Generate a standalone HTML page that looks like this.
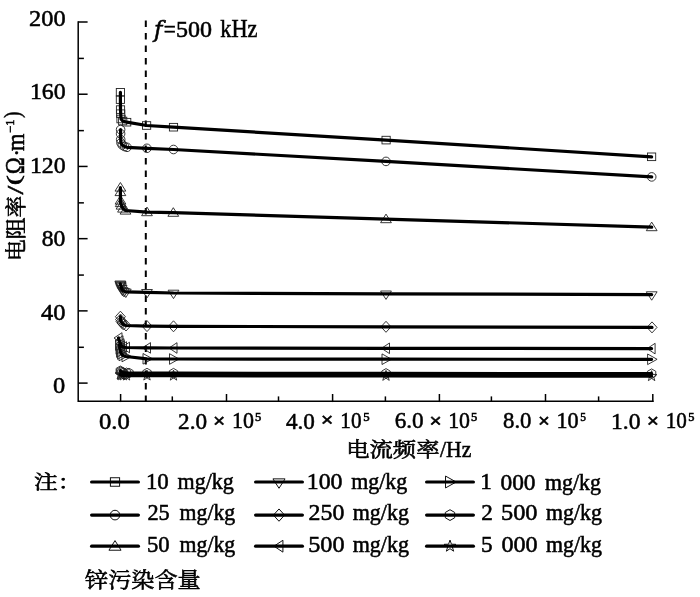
<!DOCTYPE html>
<html><head><meta charset="utf-8"><style>html,body{margin:0;padding:0;background:#fff;}svg{display:block;}</style></head>
<body><svg width="700" height="597" viewBox="0 0 700 597"><path d="M78.2,21.25 V401.3 H653.55" fill="none" stroke="#000" stroke-width="1.5" stroke-linejoin="miter"/>
<line x1="78.2" y1="22.00" x2="87.6" y2="22.00" stroke="#000" stroke-width="1.5"/>
<line x1="78.2" y1="94.22" x2="87.6" y2="94.22" stroke="#000" stroke-width="1.5"/>
<line x1="78.2" y1="166.44" x2="87.6" y2="166.44" stroke="#000" stroke-width="1.5"/>
<line x1="78.2" y1="238.66" x2="87.6" y2="238.66" stroke="#000" stroke-width="1.5"/>
<line x1="78.2" y1="310.88" x2="87.6" y2="310.88" stroke="#000" stroke-width="1.5"/>
<line x1="78.2" y1="383.10" x2="87.6" y2="383.10" stroke="#000" stroke-width="1.5"/>
<line x1="78.2" y1="58.41" x2="83.9" y2="58.41" stroke="#000" stroke-width="1.5"/>
<line x1="78.2" y1="130.63" x2="83.9" y2="130.63" stroke="#000" stroke-width="1.5"/>
<line x1="78.2" y1="202.85" x2="83.9" y2="202.85" stroke="#000" stroke-width="1.5"/>
<line x1="78.2" y1="275.07" x2="83.9" y2="275.07" stroke="#000" stroke-width="1.5"/>
<line x1="78.2" y1="347.29" x2="83.9" y2="347.29" stroke="#000" stroke-width="1.5"/>
<line x1="120.6" y1="402.05" x2="120.6" y2="394.0" stroke="#000" stroke-width="1.5"/>
<line x1="226.5" y1="402.05" x2="226.5" y2="394.0" stroke="#000" stroke-width="1.5"/>
<line x1="332.6" y1="402.05" x2="332.6" y2="394.0" stroke="#000" stroke-width="1.5"/>
<line x1="439.4" y1="402.05" x2="439.4" y2="394.0" stroke="#000" stroke-width="1.5"/>
<line x1="545.5" y1="402.05" x2="545.5" y2="394.0" stroke="#000" stroke-width="1.5"/>
<line x1="652.8" y1="402.05" x2="652.8" y2="394.0" stroke="#000" stroke-width="1.5"/>
<line x1="172.3" y1="401.3" x2="172.3" y2="396.4" stroke="#000" stroke-width="1.5"/>
<line x1="278.5" y1="401.3" x2="278.5" y2="396.4" stroke="#000" stroke-width="1.5"/>
<line x1="385.4" y1="401.3" x2="385.4" y2="396.4" stroke="#000" stroke-width="1.5"/>
<line x1="491.4" y1="401.3" x2="491.4" y2="396.4" stroke="#000" stroke-width="1.5"/>
<line x1="598.6" y1="401.3" x2="598.6" y2="396.4" stroke="#000" stroke-width="1.5"/>
<line x1="145.8" y1="20.6" x2="145.8" y2="401" stroke="#000" stroke-width="2" stroke-dasharray="6.4 6.1"/>
<g fill="none" stroke="#222" stroke-width="0.9"><rect x="116.30" y="88.50" width="8.20" height="7.60" /><rect x="116.30" y="95.80" width="8.20" height="7.60" /><rect x="116.40" y="105.80" width="8.20" height="7.60" /><rect x="116.60" y="109.90" width="8.20" height="7.60" /><rect x="116.90" y="115.20" width="8.20" height="7.60" /><rect x="118.60" y="117.20" width="8.20" height="7.60" /><rect x="122.60" y="118.40" width="8.20" height="7.60" /><rect x="142.50" y="121.70" width="8.20" height="7.60" /><rect x="169.40" y="123.40" width="8.20" height="7.60" /><rect x="382.00" y="136.30" width="8.20" height="7.60" /><rect x="647.50" y="153.00" width="8.20" height="7.60" /><circle cx="120.60" cy="129.60" r="4.30"/><circle cx="120.60" cy="133.80" r="4.30"/><circle cx="120.70" cy="139.60" r="4.30"/><circle cx="121.00" cy="142.80" r="4.30"/><circle cx="122.20" cy="145.00" r="4.30"/><circle cx="124.50" cy="146.50" r="4.30"/><circle cx="127.00" cy="147.30" r="4.30"/><circle cx="146.90" cy="148.30" r="4.30"/><circle cx="173.50" cy="149.50" r="4.30"/><circle cx="386.00" cy="161.40" r="4.30"/><circle cx="651.70" cy="176.90" r="4.30"/><path d="M120.40,182.50 L125.80,191.10 L115.00,191.10Z"/><path d="M120.40,187.00 L125.80,195.60 L115.00,195.60Z"/><path d="M120.50,195.50 L125.90,204.10 L115.10,204.10Z"/><path d="M120.70,198.00 L126.10,206.60 L115.30,206.60Z"/><path d="M121.50,200.50 L126.90,209.10 L116.10,209.10Z"/><path d="M123.00,203.50 L128.40,212.10 L117.60,212.10Z"/><path d="M125.50,205.50 L130.90,214.10 L120.10,214.10Z"/><path d="M147.00,207.10 L152.40,215.70 L141.60,215.70Z"/><path d="M173.30,207.70 L178.70,216.30 L167.90,216.30Z"/><path d="M386.00,214.10 L391.40,222.70 L380.60,222.70Z"/><path d="M651.70,222.10 L657.10,230.70 L646.30,230.70Z"/><path d="M120.30,289.40 L125.70,281.00 L114.90,281.00Z"/><path d="M120.50,290.10 L125.90,281.70 L115.10,281.70Z"/><path d="M120.70,291.00 L126.10,282.60 L115.30,282.60Z"/><path d="M121.00,292.20 L126.40,283.80 L115.60,283.80Z"/><path d="M121.60,293.90 L127.00,285.50 L116.20,285.50Z"/><path d="M122.50,295.80 L127.90,287.40 L117.10,287.40Z"/><path d="M124.00,296.90 L129.40,288.50 L118.60,288.50Z"/><path d="M125.80,297.50 L131.20,289.10 L120.40,289.10Z"/><path d="M147.00,297.90 L152.40,289.50 L141.60,289.50Z"/><path d="M173.50,298.60 L178.90,290.20 L168.10,290.20Z"/><path d="M386.00,299.40 L391.40,291.00 L380.60,291.00Z"/><path d="M651.70,300.20 L657.10,291.80 L646.30,291.80Z"/><path d="M120.40,311.20 L125.40,316.70 L120.40,322.20 L115.40,316.70Z"/><path d="M120.50,314.00 L125.50,319.50 L120.50,325.00 L115.50,319.50Z"/><path d="M121.00,316.00 L126.00,321.50 L121.00,327.00 L116.00,321.50Z"/><path d="M122.00,317.50 L127.00,323.00 L122.00,328.50 L117.00,323.00Z"/><path d="M123.50,319.00 L128.50,324.50 L123.50,330.00 L118.50,324.50Z"/><path d="M126.00,320.00 L131.00,325.50 L126.00,331.00 L121.00,325.50Z"/><path d="M147.00,320.60 L152.00,326.10 L147.00,331.60 L142.00,326.10Z"/><path d="M173.50,320.80 L178.50,326.30 L173.50,331.80 L168.50,326.30Z"/><path d="M386.00,321.30 L391.00,326.80 L386.00,332.30 L381.00,326.80Z"/><path d="M652.00,321.90 L657.00,327.40 L652.00,332.90 L647.00,327.40Z"/><path d="M114.00,338.00 L122.00,332.70 L122.00,343.30Z"/><path d="M115.00,341.00 L123.00,335.70 L123.00,346.30Z"/><path d="M116.00,344.00 L124.00,338.70 L124.00,349.30Z"/><path d="M116.50,346.00 L124.50,340.70 L124.50,351.30Z"/><path d="M118.50,347.00 L126.50,341.70 L126.50,352.30Z"/><path d="M121.50,347.50 L129.50,342.20 L129.50,352.80Z"/><path d="M142.50,347.90 L150.50,342.60 L150.50,353.20Z"/><path d="M169.00,348.00 L177.00,342.70 L177.00,353.30Z"/><path d="M381.50,348.30 L389.50,343.00 L389.50,353.60Z"/><path d="M647.10,348.60 L655.10,343.30 L655.10,353.90Z"/><path d="M125.00,345.00 L115.50,339.70 L115.50,350.30Z"/><path d="M125.50,349.00 L116.00,343.70 L116.00,354.30Z"/><path d="M126.00,352.00 L116.50,346.70 L116.50,357.30Z"/><path d="M127.00,354.00 L117.50,348.70 L117.50,359.30Z"/><path d="M128.50,355.50 L119.00,350.20 L119.00,360.80Z"/><path d="M131.50,356.50 L122.00,351.20 L122.00,361.80Z"/><path d="M152.50,358.80 L143.00,353.50 L143.00,364.10Z"/><path d="M179.00,359.00 L169.50,353.70 L169.50,364.30Z"/><path d="M391.50,359.20 L382.00,353.90 L382.00,364.50Z"/><path d="M657.10,359.30 L647.60,354.00 L647.60,364.60Z"/><path d="M120.30,366.00 L116.14,368.40 L116.14,373.20 L120.30,375.60 L124.46,373.20 L124.46,368.40Z"/><path d="M120.80,366.80 L116.64,369.20 L116.64,374.00 L120.80,376.40 L124.96,374.00 L124.96,369.20Z"/><path d="M121.80,367.40 L117.64,369.80 L117.64,374.60 L121.80,377.00 L125.96,374.60 L125.96,369.80Z"/><path d="M123.50,367.80 L119.34,370.20 L119.34,375.00 L123.50,377.40 L127.66,375.00 L127.66,370.20Z"/><path d="M126.50,368.00 L122.34,370.40 L122.34,375.20 L126.50,377.60 L130.66,375.20 L130.66,370.40Z"/><path d="M129.00,368.20 L124.84,370.60 L124.84,375.40 L129.00,377.80 L133.16,375.40 L133.16,370.60Z"/><path d="M147.00,368.30 L142.84,370.70 L142.84,375.50 L147.00,377.90 L151.16,375.50 L151.16,370.70Z"/><path d="M173.50,368.40 L169.34,370.80 L169.34,375.60 L173.50,378.00 L177.66,375.60 L177.66,370.80Z"/><path d="M386.00,368.60 L381.84,371.00 L381.84,375.80 L386.00,378.20 L390.16,375.80 L390.16,371.00Z"/><path d="M651.60,368.90 L647.44,371.30 L647.44,376.10 L651.60,378.50 L655.76,376.10 L655.76,371.30Z"/><path d="M120.30,369.00 L121.59,372.72 L125.53,372.80 L122.39,375.18 L123.53,378.95 L120.30,376.70 L117.07,378.95 L118.21,375.18 L115.07,372.80 L119.01,372.72Z"/><path d="M120.80,369.50 L122.09,373.22 L126.03,373.30 L122.89,375.68 L124.03,379.45 L120.80,377.20 L117.57,379.45 L118.71,375.68 L115.57,373.30 L119.51,373.22Z"/><path d="M121.80,369.80 L123.09,373.52 L127.03,373.60 L123.89,375.98 L125.03,379.75 L121.80,377.50 L118.57,379.75 L119.71,375.98 L116.57,373.60 L120.51,373.52Z"/><path d="M123.50,370.00 L124.79,373.72 L128.73,373.80 L125.59,376.18 L126.73,379.95 L123.50,377.70 L120.27,379.95 L121.41,376.18 L118.27,373.80 L122.21,373.72Z"/><path d="M126.50,370.10 L127.79,373.82 L131.73,373.90 L128.59,376.28 L129.73,380.05 L126.50,377.80 L123.27,380.05 L124.41,376.28 L121.27,373.90 L125.21,373.82Z"/><path d="M147.00,370.10 L148.29,373.82 L152.23,373.90 L149.09,376.28 L150.23,380.05 L147.00,377.80 L143.77,380.05 L144.91,376.28 L141.77,373.90 L145.71,373.82Z"/><path d="M173.50,370.20 L174.79,373.92 L178.73,374.00 L175.59,376.38 L176.73,380.15 L173.50,377.90 L170.27,380.15 L171.41,376.38 L168.27,374.00 L172.21,373.92Z"/><path d="M386.00,370.40 L387.29,374.12 L391.23,374.20 L388.09,376.58 L389.23,380.35 L386.00,378.10 L382.77,380.35 L383.91,376.58 L380.77,374.20 L384.71,374.12Z"/><path d="M651.60,370.70 L652.89,374.42 L656.83,374.50 L653.69,376.88 L654.83,380.65 L651.60,378.40 L648.37,380.65 L649.51,376.88 L646.37,374.50 L650.31,374.42Z"/></g>
<g fill="none" stroke="#000" stroke-width="3.2" stroke-linejoin="round" stroke-linecap="round"><polyline points="120.40,92.30 120.40,99.60 120.50,109.60 120.70,113.70 121.00,119.00 122.70,121.00 126.70,122.20 146.60,125.50 173.50,127.20 386.10,140.10 651.60,156.80"/><polyline points="120.60,129.60 120.60,133.80 120.70,139.60 121.00,142.80 122.20,145.00 124.50,146.50 127.00,147.30 146.90,148.30 173.50,149.50 386.00,161.40 651.70,176.90"/><polyline points="120.40,187.50 120.40,192.00 120.50,200.50 120.70,203.00 121.50,205.50 123.00,208.50 125.50,210.50 147.00,212.10 173.30,212.70 386.00,219.10 651.70,227.10"/><polyline points="120.30,283.80 120.50,284.50 120.70,285.40 121.00,286.60 121.60,288.30 122.50,290.20 124.00,291.30 125.80,291.90 147.00,292.30 173.50,293.00 386.00,293.80 651.70,294.60"/><polyline points="120.40,316.70 120.50,319.50 121.00,321.50 122.00,323.00 123.50,324.50 126.00,325.50 147.00,326.10 173.50,326.30 386.00,326.80 652.00,327.40"/><polyline points="118.50,338.00 119.50,341.00 120.50,344.00 121.00,346.00 123.00,347.00 126.00,347.50 147.00,347.90 173.50,348.00 386.00,348.30 651.60,348.60"/><polyline points="119.50,345.00 120.00,349.00 120.50,352.00 121.50,354.00 123.00,355.50 126.00,356.50 147.00,358.80 173.50,359.00 386.00,359.20 651.60,359.30"/><polyline points="120.30,370.80 120.80,371.60 121.80,372.20 123.50,372.60 126.50,372.80 129.00,373.00 147.00,373.10 173.50,373.20 386.00,373.40 651.60,373.70"/><polyline points="120.30,374.50 120.80,375.00 121.80,375.30 123.50,375.50 126.50,375.60 147.00,375.60 173.50,375.70 386.00,375.90 651.60,376.20"/></g>
<text x="29.13" y="26.44" font-size="24.00" font-family="'Liberation Serif',serif"  stroke="#000" stroke-width="0.55" textLength="36.47" lengthAdjust="spacingAndGlyphs">200</text>
<text x="29.92" y="99.34" font-size="24.00" font-family="'Liberation Serif',serif"  stroke="#000" stroke-width="0.55" textLength="35.77" lengthAdjust="spacingAndGlyphs">160</text>
<text x="29.92" y="172.74" font-size="24.00" font-family="'Liberation Serif',serif"  stroke="#000" stroke-width="0.55" textLength="35.77" lengthAdjust="spacingAndGlyphs">120</text>
<text x="41.69" y="245.67" font-size="24.00" font-family="'Liberation Serif',serif"  stroke="#000" stroke-width="0.55" textLength="23.60" lengthAdjust="spacingAndGlyphs">80</text>
<text x="40.95" y="319.94" font-size="24.00" font-family="'Liberation Serif',serif"  stroke="#000" stroke-width="0.55" textLength="24.43" lengthAdjust="spacingAndGlyphs">40</text>
<text x="53.06" y="392.56" font-size="24.00" font-family="'Liberation Serif',serif"  stroke="#000" stroke-width="0.55" textLength="12.19" lengthAdjust="spacingAndGlyphs">0</text>
<text x="98.93" y="429.15" font-size="24.00" font-family="'Liberation Serif',serif"  stroke="#000" stroke-width="0.55" textLength="30.77" lengthAdjust="spacingAndGlyphs">0.0</text>
<text x="178.06" y="428.94" font-size="24.00" font-family="'Liberation Serif',serif"  stroke="#000" stroke-width="0.55" textLength="28.96" lengthAdjust="spacingAndGlyphs">2.0</text>
<text x="213.31" y="426.80" font-size="17.95" font-family="'Liberation Sans',sans-serif"  stroke="#000" stroke-width="0.55" textLength="11.79" lengthAdjust="spacingAndGlyphs">×</text>
<text x="231.95" y="428.14" font-size="24.00" font-family="'Liberation Serif',serif"  stroke="#000" stroke-width="0.55" textLength="21.93" lengthAdjust="spacingAndGlyphs">10</text>
<text x="255.12" y="420.87" font-size="11.66" font-family="'Liberation Serif',serif"  stroke="#000" stroke-width="0.55" textLength="6.28" lengthAdjust="spacingAndGlyphs">5</text>
<text x="286.00" y="428.94" font-size="24.00" font-family="'Liberation Serif',serif"  stroke="#000" stroke-width="0.55" textLength="28.91" lengthAdjust="spacingAndGlyphs">4.0</text>
<text x="320.95" y="426.40" font-size="18.81" font-family="'Liberation Sans',sans-serif"  stroke="#000" stroke-width="0.55" textLength="12.22" lengthAdjust="spacingAndGlyphs">×</text>
<text x="340.31" y="428.14" font-size="24.00" font-family="'Liberation Serif',serif"  stroke="#000" stroke-width="0.55" textLength="21.21" lengthAdjust="spacingAndGlyphs">10</text>
<text x="363.27" y="420.85" font-size="11.63" font-family="'Liberation Serif',serif"  stroke="#000" stroke-width="0.55" textLength="6.40" lengthAdjust="spacingAndGlyphs">5</text>
<text x="394.64" y="428.38" font-size="24.00" font-family="'Liberation Serif',serif"  stroke="#000" stroke-width="0.55" textLength="28.95" lengthAdjust="spacingAndGlyphs">6.0</text>
<text x="429.43" y="426.74" font-size="18.54" font-family="'Liberation Sans',sans-serif"  stroke="#000" stroke-width="0.55" textLength="12.11" lengthAdjust="spacingAndGlyphs">×</text>
<text x="448.20" y="428.14" font-size="24.00" font-family="'Liberation Serif',serif"  stroke="#000" stroke-width="0.55" textLength="21.85" lengthAdjust="spacingAndGlyphs">10</text>
<text x="471.09" y="420.85" font-size="11.63" font-family="'Liberation Serif',serif"  stroke="#000" stroke-width="0.55" textLength="6.27" lengthAdjust="spacingAndGlyphs">5</text>
<text x="503.10" y="428.17" font-size="24.00" font-family="'Liberation Serif',serif"  stroke="#000" stroke-width="0.55" textLength="28.37" lengthAdjust="spacingAndGlyphs">8.0</text>
<text x="538.15" y="427.39" font-size="18.51" font-family="'Liberation Sans',sans-serif"  stroke="#000" stroke-width="0.55" textLength="11.40" lengthAdjust="spacingAndGlyphs">×</text>
<text x="556.51" y="428.14" font-size="24.00" font-family="'Liberation Serif',serif"  stroke="#000" stroke-width="0.55" textLength="22.16" lengthAdjust="spacingAndGlyphs">10</text>
<text x="580.29" y="420.91" font-size="11.71" font-family="'Liberation Serif',serif"  stroke="#000" stroke-width="0.55" textLength="5.70" lengthAdjust="spacingAndGlyphs">5</text>
<text x="611.10" y="428.94" font-size="24.00" font-family="'Liberation Serif',serif"  stroke="#000" stroke-width="0.55" textLength="29.45" lengthAdjust="spacingAndGlyphs">1.0</text>
<text x="647.10" y="426.82" font-size="18.29" font-family="'Liberation Sans',sans-serif"  stroke="#000" stroke-width="0.55" textLength="11.76" lengthAdjust="spacingAndGlyphs">×</text>
<text x="665.68" y="428.14" font-size="24.00" font-family="'Liberation Serif',serif"  stroke="#000" stroke-width="0.55" textLength="21.14" lengthAdjust="spacingAndGlyphs">10</text>
<text x="688.26" y="420.86" font-size="11.64" font-family="'Liberation Serif',serif"  stroke="#000" stroke-width="0.55" textLength="6.19" lengthAdjust="spacingAndGlyphs">5</text>
<text x="154.00" y="36.59" font-size="22.85" font-family="'DejaVu Serif',serif" font-style="italic" stroke="#000" stroke-width="0.55">f</text>
<text x="163.64" y="38.03" font-size="24.50" font-family="'Liberation Serif',serif"  stroke="#000" stroke-width="0.55" textLength="12.07" lengthAdjust="spacingAndGlyphs">=</text>
<text x="176.00" y="37.44" font-size="23.80" font-family="'Liberation Serif',serif"  stroke="#000" stroke-width="0.55" textLength="36.00" lengthAdjust="spacingAndGlyphs">500</text>
<text x="220.36" y="37.44" font-size="24.50" font-family="'Liberation Serif',serif"  stroke="#000" stroke-width="0.55" textLength="37.17" lengthAdjust="spacingAndGlyphs">kHz</text>
<text x="346.15" y="456.79" font-size="20.28" font-family="'Liberation Serif','Noto Serif CJK SC',serif"  stroke="#000" stroke-width="0.6" textLength="93.33" lengthAdjust="spacingAndGlyphs">电流频率</text>
<text x="440.11" y="456.74" font-size="23.92" font-family="'Liberation Serif',serif"  stroke="#000" stroke-width="0.55" textLength="31.19" lengthAdjust="spacingAndGlyphs">/Hz</text>
<text x="145.93" y="489.04" font-size="23.20" font-family="'Liberation Serif',serif"  stroke="#000" stroke-width="0.55" textLength="22.88" lengthAdjust="spacingAndGlyphs">10</text>
<text x="177.59" y="489.04" font-size="22.40" font-family="'Liberation Serif',serif"  stroke="#000" stroke-width="0.55" textLength="56.26" lengthAdjust="spacingAndGlyphs">mg/kg</text>
<text x="306.71" y="489.04" font-size="23.20" font-family="'Liberation Serif',serif"  stroke="#000" stroke-width="0.55" textLength="35.83" lengthAdjust="spacingAndGlyphs">100</text>
<text x="351.28" y="489.04" font-size="22.40" font-family="'Liberation Serif',serif"  stroke="#000" stroke-width="0.55" textLength="56.02" lengthAdjust="spacingAndGlyphs">mg/kg</text>
<text x="480.18" y="489.04" font-size="23.20" font-family="'Liberation Serif',serif"  stroke="#000" stroke-width="0.55">1</text>
<text x="500.48" y="489.66" font-size="23.20" font-family="'Liberation Serif',serif"  stroke="#000" stroke-width="0.55" textLength="35.09" lengthAdjust="spacingAndGlyphs">000</text>
<text x="545.00" y="489.66" font-size="22.40" font-family="'Liberation Serif',serif"  stroke="#000" stroke-width="0.55" textLength="55.81" lengthAdjust="spacingAndGlyphs">mg/kg</text>
<text x="147.38" y="520.04" font-size="23.20" font-family="'Liberation Serif',serif"  stroke="#000" stroke-width="0.55" textLength="22.32" lengthAdjust="spacingAndGlyphs">25</text>
<text x="179.60" y="520.04" font-size="22.40" font-family="'Liberation Serif',serif"  stroke="#000" stroke-width="0.55" textLength="55.65" lengthAdjust="spacingAndGlyphs">mg/kg</text>
<text x="308.62" y="520.04" font-size="23.20" font-family="'Liberation Serif',serif"  stroke="#000" stroke-width="0.55" textLength="35.70" lengthAdjust="spacingAndGlyphs">250</text>
<text x="352.76" y="520.04" font-size="22.40" font-family="'Liberation Serif',serif"  stroke="#000" stroke-width="0.55" textLength="56.19" lengthAdjust="spacingAndGlyphs">mg/kg</text>
<text x="481.30" y="520.04" font-size="23.20" font-family="'Liberation Serif',serif"  stroke="#000" stroke-width="0.55">2</text>
<text x="501.00" y="520.04" font-size="23.20" font-family="'Liberation Serif',serif"  stroke="#000" stroke-width="0.55" textLength="36.56" lengthAdjust="spacingAndGlyphs">500</text>
<text x="546.00" y="520.04" font-size="22.40" font-family="'Liberation Serif',serif"  stroke="#000" stroke-width="0.55" textLength="55.81" lengthAdjust="spacingAndGlyphs">mg/kg</text>
<text x="147.00" y="552.44" font-size="23.20" font-family="'Liberation Serif',serif"  stroke="#000" stroke-width="0.55" textLength="22.66" lengthAdjust="spacingAndGlyphs">50</text>
<text x="179.60" y="552.44" font-size="22.40" font-family="'Liberation Serif',serif"  stroke="#000" stroke-width="0.55" textLength="55.65" lengthAdjust="spacingAndGlyphs">mg/kg</text>
<text x="308.22" y="552.44" font-size="23.20" font-family="'Liberation Serif',serif"  stroke="#000" stroke-width="0.55" textLength="36.32" lengthAdjust="spacingAndGlyphs">500</text>
<text x="352.76" y="552.44" font-size="22.40" font-family="'Liberation Serif',serif"  stroke="#000" stroke-width="0.55" textLength="56.19" lengthAdjust="spacingAndGlyphs">mg/kg</text>
<text x="481.00" y="552.44" font-size="23.20" font-family="'Liberation Serif',serif"  stroke="#000" stroke-width="0.55">5</text>
<text x="501.43" y="551.95" font-size="23.20" font-family="'Liberation Serif',serif"  stroke="#000" stroke-width="0.55" textLength="36.24" lengthAdjust="spacingAndGlyphs">000</text>
<text x="546.00" y="551.95" font-size="22.40" font-family="'Liberation Serif',serif"  stroke="#000" stroke-width="0.55" textLength="55.81" lengthAdjust="spacingAndGlyphs">mg/kg</text>
<text x="34.14" y="488.90" font-size="19.57" font-family="'Liberation Serif','Noto Serif CJK SC',serif"  stroke="#000" stroke-width="0.6" textLength="47.29" lengthAdjust="spacingAndGlyphs">注：</text>
<text x="85.00" y="587.00" font-size="20.88" font-family="'Liberation Serif','Noto Serif CJK SC',serif"  stroke="#000" stroke-width="0.6" textLength="115.73" lengthAdjust="spacingAndGlyphs">锌污染含量</text>
<text transform="translate(22.70,261.00) rotate(-90)" font-size="21.02" font-family="'Liberation Serif','Noto Serif CJK SC',serif"  stroke="#000" stroke-width="0.6" textLength="65.11" lengthAdjust="spacingAndGlyphs">电阻率</text>
<text transform="translate(22.58,194.62) rotate(-90)" font-size="23.67" font-family="'Liberation Serif',serif"  stroke="#000" stroke-width="0.55" textLength="8.78" lengthAdjust="spacingAndGlyphs">/</text>
<text transform="translate(19.65,185.20) rotate(-90)" font-size="19.52" font-family="'Liberation Serif',serif"  stroke="#000" stroke-width="0.55" textLength="9.94" lengthAdjust="spacingAndGlyphs">(</text>
<text transform="translate(23.93,174.27) rotate(-90)" font-size="26.77" font-family="'Liberation Serif',serif"  stroke="#000" stroke-width="0.55" textLength="16.92" lengthAdjust="spacingAndGlyphs">Ω</text>
<text transform="translate(23.78,156.62) rotate(-90)" font-size="22.30" font-family="'Liberation Serif',serif"  stroke="#000" stroke-width="0.55">·</text>
<text transform="translate(23.88,151.00) rotate(-90)" font-size="25.57" font-family="'Liberation Serif',serif"  stroke="#000" stroke-width="0.55" textLength="17.39" lengthAdjust="spacingAndGlyphs">m</text>
<text transform="translate(14.13,132.74) rotate(-90)" font-size="11.61" font-family="'Liberation Serif',serif"  stroke="#000" stroke-width="0.55" textLength="13.16" lengthAdjust="spacingAndGlyphs">−1</text>
<text transform="translate(19.61,118.10) rotate(-90)" font-size="22.68" font-family="'Liberation Serif',serif"  stroke="#000" stroke-width="0.55" textLength="6.45" lengthAdjust="spacingAndGlyphs">)</text>
<g fill="none" stroke="#111" stroke-width="1"><rect x="110.41" y="477.74" width="9.18" height="8.51" /></g>
<line x1="91.6" y1="482.0" x2="138.4" y2="482.0" stroke="#000" stroke-width="3.2" stroke-linecap="round"/>
<g fill="none" stroke="#111" stroke-width="1"><path d="M279.00,488.27 L285.05,478.86 L272.95,478.86Z"/></g>
<line x1="255.6" y1="482.0" x2="302.4" y2="482.0" stroke="#000" stroke-width="3.2" stroke-linecap="round"/>
<g fill="none" stroke="#111" stroke-width="1"><path d="M456.16,482.00 L445.52,476.06 L445.52,487.94Z"/></g>
<line x1="426.6" y1="482.0" x2="473.4" y2="482.0" stroke="#000" stroke-width="3.2" stroke-linecap="round"/>
<g fill="none" stroke="#111" stroke-width="1"><circle cx="115.00" cy="515.10" r="4.82"/></g>
<line x1="91.6" y1="515.1" x2="138.4" y2="515.1" stroke="#000" stroke-width="3.2" stroke-linecap="round"/>
<g fill="none" stroke="#111" stroke-width="1"><path d="M279.00,508.94 L284.60,515.10 L279.00,521.26 L273.40,515.10Z"/></g>
<line x1="255.6" y1="515.1" x2="302.4" y2="515.1" stroke="#000" stroke-width="3.2" stroke-linecap="round"/>
<g fill="none" stroke="#111" stroke-width="1"><path d="M450.00,509.72 L445.34,512.41 L445.34,517.79 L450.00,520.48 L454.66,517.79 L454.66,512.41Z"/></g>
<line x1="426.6" y1="515.1" x2="473.4" y2="515.1" stroke="#000" stroke-width="3.2" stroke-linecap="round"/>
<g fill="none" stroke="#111" stroke-width="1"><path d="M115.00,540.60 L121.05,550.23 L108.95,550.23Z"/></g>
<line x1="91.6" y1="546.2" x2="138.4" y2="546.2" stroke="#000" stroke-width="3.2" stroke-linecap="round"/>
<g fill="none" stroke="#111" stroke-width="1"><path d="M273.96,546.20 L282.92,540.26 L282.92,552.14Z"/></g>
<line x1="255.6" y1="546.2" x2="302.4" y2="546.2" stroke="#000" stroke-width="3.2" stroke-linecap="round"/>
<g fill="none" stroke="#111" stroke-width="1"><path d="M450.00,540.04 L451.45,544.21 L455.86,544.30 L452.34,546.96 L453.62,551.18 L450.00,548.66 L446.38,551.18 L447.66,546.96 L444.14,544.30 L448.55,544.21Z"/></g>
<line x1="426.6" y1="546.2" x2="473.4" y2="546.2" stroke="#000" stroke-width="3.2" stroke-linecap="round"/></svg></body></html>
